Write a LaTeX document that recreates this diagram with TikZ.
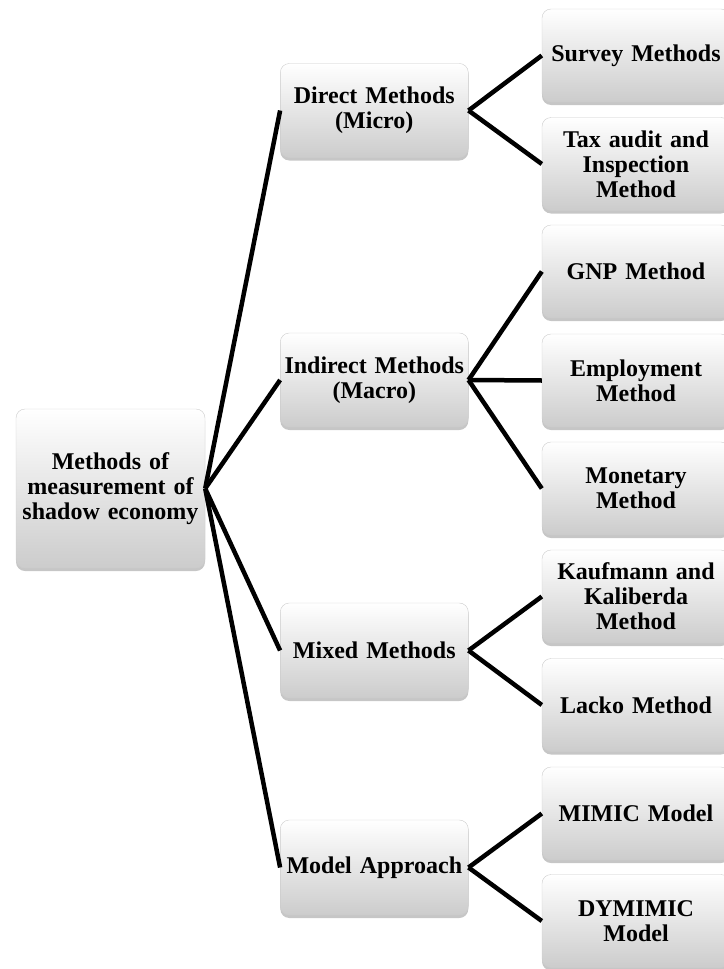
\documentclass[tikz,border=0pt]{standalone}
\usepackage{fontspec}
\setmainfont{Liberation Serif}
\usetikzlibrary{shadows}

\begin{document}
\begin{tikzpicture}[x=1pt,y=-1pt]
\tikzstyle{block}=[rectangle, rounded corners=9pt, draw=gray!40, top color=white, bottom color=gray!40, drop shadow={shadow xshift=0pt, shadow yshift=-3pt, opacity=0.45, fill=gray}, align=center, font=\bfseries\fontsize{24}{25}\selectfont, text width=182pt, minimum width=188pt, minimum height=93pt, inner sep=2pt]
\tikzstyle{main}=[block, minimum width=189pt, minimum height=159pt]
\tikzstyle{connect}=[line width=4.5pt]
\useasboundingbox (0,0) rectangle (723,969);
	\node[main] (shadow) at (110.5,488.5) {Methods of\\measurement of\\shadow economy};

	\node[block, minimum height=94pt] (direct) at (374.3,110.5) {Direct Methods\\(Micro)};
	\node[block, minimum height=94pt] (indirect) at (374.3,380) {Indirect Methods\\(Macro)};
	\node[block, minimum height=95pt] (mixed) at (374.3,650.5) {Mixed Methods};
	\node[block, minimum height=95pt] (model) at (374.3,867.5) {Model Approach};

	\node[block] (survey) at (636,55.5) {Survey Methods};
	\node[block] (taxaudit) at (636,164) {Tax audit and\\Inspection\\Method};
	\node[block] (gnp) at (636,271.5) {GNP Method};
	\node[block] (employ) at (636,380.5) {Employment\\Method};
	\node[block] (monetary) at (636,488.5) {Monetary\\Method};
	\node[block] (kaufmann) at (636,596.5) {Kaufmann and\\Kaliberda\\Method};
	\node[block] (lacko) at (636,705) {Lacko Method};
	\node[block] (mimic) at (636,813.5) {MIMIC Model};
	\node[block] (dymimic) at (636,921) {DYMIMIC\\Model};

	\path[connect]
		(shadow.east) edge [] (direct.west)
		(shadow.east) edge [] (indirect.west)
		(shadow.east) edge [] (mixed.west)
		(shadow.east) edge [] (model.west)
		(direct.east) edge [] (survey.west)
		(direct.east) edge [] (taxaudit.west)
		(indirect.east) edge [] (gnp.west)
		(indirect.east) edge [] (employ.west)
		(indirect.east) edge [] (monetary.west)
		(mixed.east) edge [] (kaufmann.west)
		(mixed.east) edge [] (lacko.west)
		(model.east) edge [] (mimic.west)
		(model.east) edge [] (dymimic.west);

\end{tikzpicture}
\end{document}
